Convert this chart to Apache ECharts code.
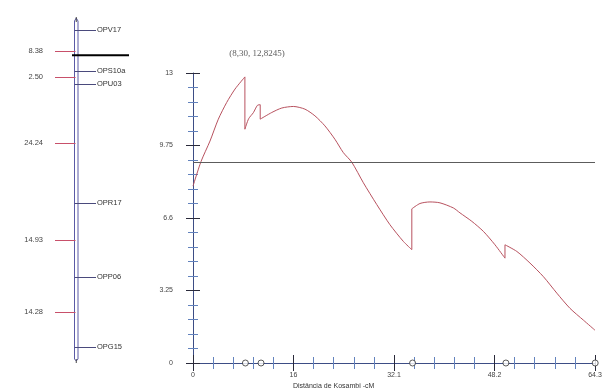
<!DOCTYPE html>
<html>
<head>
<meta charset="utf-8">
<script src="https://cdn.jsdelivr.net/npm/echarts@6/dist/echarts.min.js"></script>
<style>
  html, body { margin: 0; padding: 0; background: #fff; }
  #chart { width: 609px; height: 392px; }
</style>
</head>
<body>
<div id="chart"></div>
<script>
// Linkage group: marker names and the distances (cM) between neighbours
const markerNames = ['OPV17', 'OPS10a', 'OPU03', 'OPR17', 'OPP06', 'OPG15'];
const intervalLengths = [8.38, 2.50, 24.24, 14.93, 14.28];
const qtlMarkPos = 5.1;

// LOD profile along the group (position cM, LOD)
const lodCurve = [
  [0, 7.93], [1.28, 9.03], [2.72, 9.95], [4.05, 10.93], [5.39, 11.68],
  [6.72, 12.28], [8.30, 12.8245], [8.30, 10.48], [8.9, 10.95], [9.65, 11.22],
  [10.3, 11.55], [10.75, 11.58], [10.75, 10.93], [12.6, 11.23], [14.2, 11.43],
  [16.05, 11.5], [17.9, 11.38], [19.5, 11.08], [21.1, 10.63], [22.7, 10.03],
  [24.05, 9.43], [25.4, 9.0], [27.25, 8.08], [29.4, 7.1], [31.5, 6.2],
  [33.65, 5.45], [35.0, 5.08], [35.0, 6.91], [36.3, 7.15], [37.9, 7.22],
  [39.5, 7.18], [41.65, 6.95], [42.7, 6.73], [44.6, 6.35], [46.45, 5.9],
  [48.3, 5.3], [49.9, 4.70], [49.9, 5.3], [51.8, 5.0], [53.9, 4.48],
  [56.05, 3.87], [58.2, 3.13], [60.3, 2.45], [62.45, 1.92], [64.3, 1.47]
];
const peakPoint = [8.30, 12.8245];
const lodThreshold = 9.0;

// Tick labels
const xTickLabels = ['0', '16', '32.1', '48.2', '64.3'];
const yTickLabels = ['0', '3.25', '6.6', '9.75', '13'];
const xAxisTitle = 'Distância de Kosambi -cM';

// Cumulative marker positions along the group
const markerPos = [0];
intervalLengths.forEach(function (d, i) { markerPos.push(+(markerPos[i] + d).toFixed(2)); });
const intervalMid = intervalLengths.map(function (d, i) { return [markerPos[i] + d / 2, d]; });
const groupLength = markerPos[markerPos.length - 1];

// Split the profile into smooth stretches and the vertical jumps at markers
const curveRuns = [], curveJumps = [];
lodCurve.forEach(function (p, i) {
  const prev = lodCurve[i - 1];
  if (prev && prev[0] === p[0]) {
    curveRuns.push(null);
    curveJumps.push(prev, p, null);
  }
  curveRuns.push(p);
});

const X_MAX = 64.3, X_STEP = X_MAX / 4;
const Y_MAX = 13, Y_STEP = 3.25;

const SANS = '"Liberation Sans", Arial, sans-serif';
const AXIS_BLUE = '#3d4d85';
const MINOR_BLUE = '#6282bd';
const MAJOR_DARK = '#2a2a3a';
const CURVE_RED = '#b8525f';
const CHROM_X = 74.5;

function comma(v, d) { return v.toFixed(d).replace('.', ','); }

function mainXAxis(inside) {
  return {
    type: 'value', gridIndex: 0, min: 0, max: X_MAX, interval: X_STEP,
    position: 'bottom',
    axisLine: { show: !inside, lineStyle: { color: AXIS_BLUE, width: 1 } },
    axisTick: { show: true, inside: inside, length: 8, lineStyle: { color: MAJOR_DARK, width: 1 } },
    minorTick: { show: true, splitNumber: 5, length: 6, lineStyle: { color: MINOR_BLUE, width: 1 } },
    axisLabel: {
      show: !inside, margin: 9, fontSize: 7, fontFamily: SANS, color: '#444',
      formatter: function (v) { return xTickLabels[Math.round(v / X_STEP)]; }
    },
    splitLine: { show: false }
  };
}
function mainYAxis(inside) {
  return {
    type: 'value', gridIndex: 0, min: 0, max: Y_MAX, interval: Y_STEP,
    position: 'left',
    axisLine: { show: !inside, lineStyle: { color: AXIS_BLUE, width: 1 } },
    axisTick: { show: true, inside: inside, length: 7, lineStyle: { color: MAJOR_DARK, width: 1 } },
    minorTick: { show: true, splitNumber: 5, length: 5, lineStyle: { color: MINOR_BLUE, width: 1 } },
    axisLabel: {
      show: !inside, margin: 20, fontSize: 7, fontFamily: SANS, color: '#444',
      formatter: function (v) { return yTickLabels[Math.round(v / Y_STEP)]; }
    },
    splitLine: { show: false }
  };
}

const chart = echarts.init(document.getElementById('chart'), null, { renderer: 'canvas' });

chart.setOption({
  animation: false,
  backgroundColor: '#fff',
  title: {
    text: xAxisTitle, left: 293, top: 383, padding: 0,
    textStyle: { fontSize: 7, fontWeight: 'normal', fontFamily: SANS, color: '#333' }
  },
  grid: [
    { left: 193, top: 73, width: 402, height: 290 },
    { left: 40, top: 30, width: 80, height: 317 }
  ],
  xAxis: [
    mainXAxis(false), mainXAxis(true),
    { type: 'value', gridIndex: 1, min: 0, max: 1, show: false }
  ],
  yAxis: [
    mainYAxis(false), mainYAxis(true),
    { type: 'value', gridIndex: 1, min: 0, max: groupLength, inverse: true, show: false }
  ],
  series: [
    {
      // LOD profile, continuous stretches
      type: 'line', xAxisIndex: 0, yAxisIndex: 0,
      data: curveRuns, connectNulls: false, showSymbol: false, smooth: 0.25, z: 3,
      lineStyle: { color: CURVE_RED, width: 1 },
      markLine: {
        silent: true, symbol: 'none', label: { show: false },
        lineStyle: { color: '#5c5c5c', width: 1, type: 'solid' },
        data: [{ yAxis: lodThreshold }]
      }
    },
    {
      // LOD profile, jumps at marker positions
      type: 'line', xAxisIndex: 0, yAxisIndex: 0,
      data: curveJumps, connectNulls: false, showSymbol: false, smooth: false, z: 3,
      lineStyle: { color: CURVE_RED, width: 1 }
    },
    {
      // peak annotation
      type: 'scatter', xAxisIndex: 0, yAxisIndex: 0,
      data: [peakPoint], symbolSize: 0,
      label: {
        show: true, position: 'inside', offset: [12, -23],
        fontSize: 9, fontFamily: '"Liberation Serif", "Times New Roman", serif', color: '#333',
        formatter: function (p) { return '(' + comma(p.value[0], 2) + ', ' + comma(p.value[1], 4) + ')'; }
      }
    },
    {
      // marker positions along the distance axis
      type: 'scatter', xAxisIndex: 0, yAxisIndex: 0, clip: false, z: 5,
      data: markerPos.slice(1).map(function (p) { return [p, 0]; }),
      symbol: 'circle', symbolSize: 6,
      itemStyle: { color: '#fff', borderColor: '#333', borderWidth: 1 }
    },
    {
      // chromosome body
      type: 'custom', xAxisIndex: 2, yAxisIndex: 2, clip: false,
      data: [[0, 0, groupLength]],
      renderItem: function (params, api) {
        const y0 = api.coord([0, api.value(1)])[1] - 12;
        const y1 = api.coord([0, api.value(2)])[1] + 10;
        const c = '#5a5aa6';
        const xa = CHROM_X, xb = CHROM_X + 3.5, xm = CHROM_X + 1.75;
        return {
          type: 'group', children: [
            { type: 'polyline', shape: { points: [[xa, y1], [xa, y0 + 3], [xm, y0], [xb, y0 + 3], [xb, y1]] },
              style: { stroke: c, lineWidth: 1, fill: null } },
            { type: 'polyline', shape: { points: [[xa, y1], [xa, y1 + 2], [xm, y1 + 4], [xb, y1 + 2], [xb, y1]] },
              style: { stroke: c, lineWidth: 1, fill: null } },
            { type: 'line', shape: { x1: xm, y1: y0 - 1, x2: xm, y2: y0 + 4 }, style: { stroke: '#444', lineWidth: 1 } },
            { type: 'line', shape: { x1: xm, y1: y1 + 2, x2: xm, y2: y1 + 6 }, style: { stroke: '#444', lineWidth: 1 } }
          ]
        };
      }
    },
    {
      // marker ticks and names
      type: 'custom', xAxisIndex: 2, yAxisIndex: 2, clip: false,
      data: markerPos.map(function (p, i) { return [0, p, i]; }),
      renderItem: function (params, api) {
        const y = Math.round(api.coord([0, api.value(1)])[1]) + 0.5;
        return {
          type: 'group', children: [
            { type: 'line', shape: { x1: CHROM_X, y1: y, x2: 96, y2: y }, style: { stroke: '#4a4a7c', lineWidth: 1 } },
            { type: 'text', style: {
                text: markerNames[api.value(2)], x: 97, y: y - 1,
                align: 'left', verticalAlign: 'middle',
                font: '7.5px ' + SANS, fill: '#333' } }
          ]
        };
      }
    },
    {
      // interval distances
      type: 'custom', xAxisIndex: 2, yAxisIndex: 2, clip: false,
      data: intervalMid.map(function (m) { return [0, m[0], m[1]]; }),
      renderItem: function (params, api) {
        const y = Math.round(api.coord([0, api.value(1)])[1]) + 0.5;
        return {
          type: 'group', children: [
            { type: 'line', shape: { x1: 55, y1: y, x2: CHROM_X + 1, y2: y }, style: { stroke: '#c8506a', lineWidth: 1 } },
            { type: 'text', style: {
                text: api.value(2).toFixed(2), x: 43, y: y - 1,
                align: 'right', verticalAlign: 'middle',
                font: '7.5px ' + SANS, fill: '#444' } }
          ]
        };
      }
    },
    {
      // QTL position mark
      type: 'custom', xAxisIndex: 2, yAxisIndex: 2, clip: false, z: 6,
      data: [[0, qtlMarkPos]],
      renderItem: function (params, api) {
        const y = api.coord([0, api.value(1)])[1];
        return { type: 'line', shape: { x1: 72, y1: y, x2: 129, y2: y }, style: { stroke: '#000', lineWidth: 2 } };
      }
    }
  ]
});
</script>
</body>
</html>
